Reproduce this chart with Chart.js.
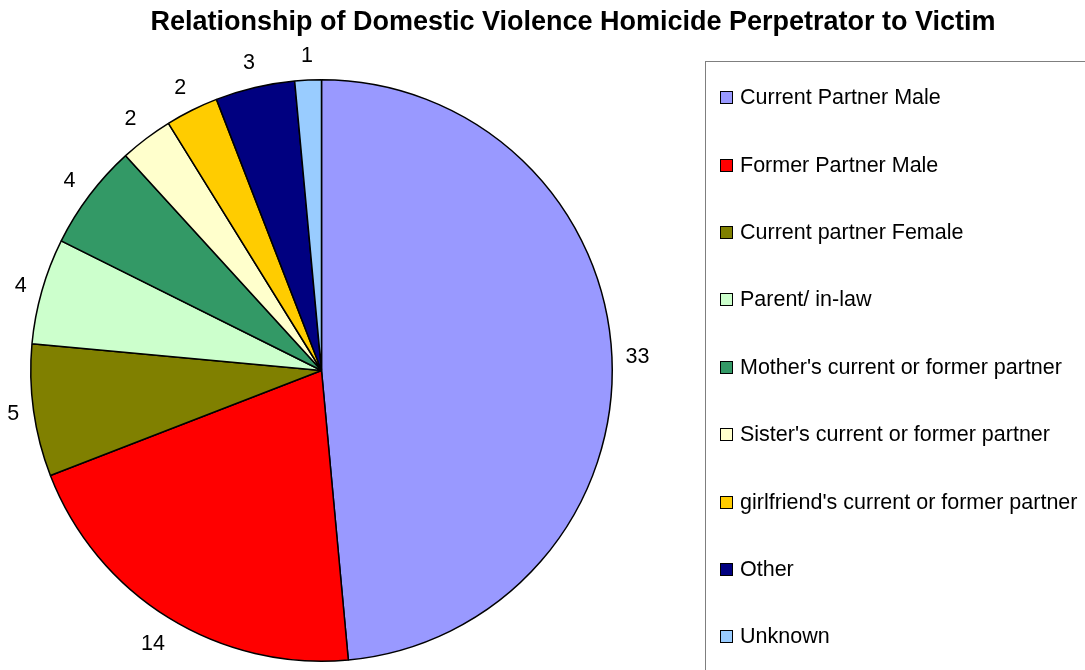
<!DOCTYPE html>
<html>
<head>
<meta charset="utf-8">
<title>Relationship of Domestic Violence Homicide Perpetrator to Victim</title>
<script src="https://cdn.jsdelivr.net/npm/chart.js@4.4.1/dist/chart.umd.min.js"></script>
<style>
  html, body { margin: 0; padding: 0; background: #ffffff; }
  #wrap { width: 1085px; height: 670px; position: relative; }
</style>
</head>
<body>
<div id="wrap"><canvas id="myChart" width="1085" height="670"></canvas></div>
<script>
// datos del grafico
var chartTitle = "Relationship of Domestic Violence Homicide Perpetrator to Victim";
var categories = [
  "Current Partner Male",
  "Former Partner Male",
  "Current partner Female",
  "Parent/ in-law",
  "Mother's current or former partner",
  "Sister's current or former partner",
  "girlfriend's current or former partner",
  "Other",
  "Unknown"
];
var homicides = [33, 14, 5, 4, 4, 2, 2, 3, 1];
var sliceColors = [
  "#9999FF", "#FF0000", "#808000", "#CCFFCC", "#339966",
  "#FFFFCC", "#FFCC00", "#000080", "#99CCFF"
];

var textFont = "21.5px 'Liberation Sans', Arial, sans-serif";

// plugin para titulo, etiquetas de valor y leyenda con recuadro
var decoPlugin = {
  id: "deco",
  afterDraw(chart) {
    const ctx = chart.ctx;
    ctx.save();

    // titulo
    ctx.fillStyle = "#000";
    ctx.font = "bold 27px 'Liberation Sans', Arial, sans-serif";
    ctx.textAlign = "center";
    ctx.textBaseline = "alphabetic";
    ctx.fillText(chartTitle, 573, 30);

    // etiquetas de valor fuera de cada porcion
    const meta = chart.getDatasetMeta(0);
    ctx.font = textFont;
    ctx.textBaseline = "middle";
    meta.data.forEach((arc, i) => {
      const p = arc.getProps(["x", "y", "startAngle", "endAngle", "outerRadius"], true);
      const mid = (p.startAngle + p.endAngle) / 2;
      const txt = String(chart.data.datasets[0].data[i]);
      const halfW = ctx.measureText(txt).width / 2;
      // distancia segun el tamano de la caja del texto
      const r = p.outerRadius + 13 + Math.abs(Math.cos(mid)) * halfW + Math.abs(Math.sin(mid)) * 12;
      ctx.fillText(txt, p.x + Math.cos(mid) * r, p.y + Math.sin(mid) * r + 1);
    });

    // leyenda
    ctx.strokeStyle = "#7f7f7f";
    ctx.lineWidth = 1;
    ctx.strokeRect(705.5, 61.5, 500, 700);
    ctx.textAlign = "left";
    categories.forEach((label, i) => {
      const cy = 97.2 + i * 67.4;
      ctx.fillStyle = sliceColors[i];
      ctx.fillRect(720.5, Math.round(cy - 6) + 0.5, 12, 12);
      ctx.strokeStyle = "#000";
      ctx.strokeRect(720.5, Math.round(cy - 6) + 0.5, 12, 12);
      ctx.fillStyle = "#000";
      ctx.fillText(label, 740, cy + 1);
    });

    ctx.restore();
  }
};

var ctx = document.getElementById("myChart");
var myChart = new Chart(ctx, {
  type: 'pie',
  data: {
    labels: categories,
    datasets: [{
      data: homicides,
      backgroundColor: sliceColors,
      borderColor: "#000000",
      borderWidth: 1.5
    }]
  },
  options: {
    responsive: false,
    devicePixelRatio: 1,
    animation: false,
    layout: {
      padding: { left: 30, top: 79, right: 472, bottom: 8 }
    },
    plugins: {
      legend: { display: false },
      title: { display: false },
      tooltip: { enabled: false }
    }
  },
  plugins: [decoPlugin]
});
</script>
</body>
</html>
